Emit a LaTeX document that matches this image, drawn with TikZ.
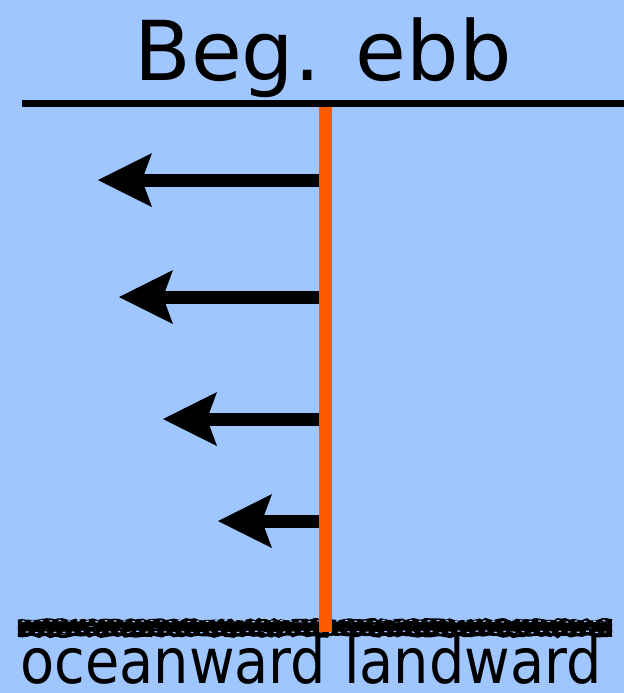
\documentclass[tikz,border=0pt]{standalone}
\usepackage{fontspec}
\setmainfont{DejaVu Sans}
\usetikzlibrary{arrows.meta,decorations.pathmorphing}
\definecolor{water}{RGB}{160,198,255}
\definecolor{profile}{RGB}{255,90,0}
\tikzset{
  surface/.style={line width=5.25pt,black},
  velocity/.style={line width=9.75pt,profile},
  flowarrow/.style={line width=9.75pt,black,
    -{Stealth[length=40.5pt,width=40.5pt,inset=7.5pt,line width=0pt]}},
  bedgrain/.style={line width=2.6pt,black,
    decorate,decoration={random steps,segment length=3pt,amplitude=1pt}},
  bedspeck/.style={line width=0.9pt,water,dash pattern=on 2pt off 5pt,
    decorate,decoration={random steps,segment length=4pt,amplitude=0.8pt}},
  title/.style={font=\fontsize{62}{70}\selectfont,anchor=base,inner sep=0pt},
  caption/.style={font=\fontsize{47}{54}\selectfont,anchor=base,inner sep=0pt}
}
\begin{document}
\begin{tikzpicture}[x=0.75pt,y=-0.75pt]
  % background
  \fill[water] (0,0) rectangle (624,693);
  \useasboundingbox (0,0) rectangle (624,693);

  % title
  \node[title] (head) at (323,80) {Beg. ebb};

  % water surface
  \coordinate (sl) at (22,103);
  \coordinate (sr) at (624,103);

  % sea bed: a rough band built from jittered strokes
  \pgfmathsetseed{11}
  \foreach \yy in {621,623,...,635} {
    \draw[bedgrain] (18,\yy) -- (612,\yy);
  }
  \draw[bedspeck] (22,621) -- (608,621);
  \draw[bedspeck] (26,632) -- (606,632);

  % velocity profile line
  \coordinate (ptop) at (325,103);
  \coordinate (pbot) at (325,632);
  \draw[velocity] (ptop) -- (pbot);
  \draw[surface] (sl) -- (sr);

  % ebb current arrows
  \coordinate (a1) at (319,180);  \coordinate (b1) at (98,180);
  \coordinate (a2) at (319,297);  \coordinate (b2) at (119,297);
  \coordinate (a3) at (319,419);  \coordinate (b3) at (163,419);
  \coordinate (a4) at (319,521);  \coordinate (b4) at (218,521);
  \foreach \i in {1,...,4} {
    \draw[flowarrow] (a\i) -- (b\i);
  }

  % direction labels
  \node[caption] (dir) at (311,683) {\scalebox{0.89}[1]{oceanward landward}};
\end{tikzpicture}
\end{document}
